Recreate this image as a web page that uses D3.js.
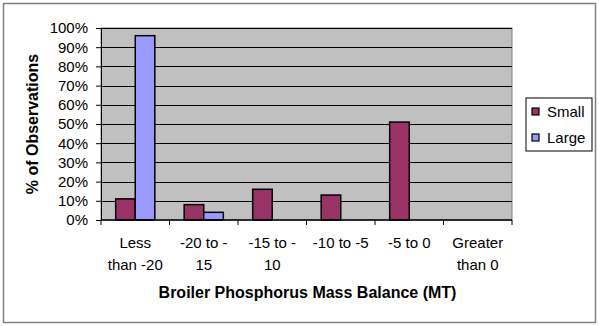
<!DOCTYPE html>
<html>
<head>
<meta charset="utf-8">
<script src="https://cdn.jsdelivr.net/npm/d3@7"></script>
<style>
  body { margin: 0; background: #fff; }
  text { font-family: Arial, "Liberation Sans", sans-serif; }
</style>
</head>
<body>
<div id="chart"></div>
<script>
// Chart data
const categories = [["Less", "than -20"], ["-20 to -", "15"], ["-15 to -", "10"], ["-10 to -5"], ["-5 to 0"], ["Greater", "than 0"]];
const seriesNames = ["Small", "Large"];
const smallValues = [11, 8, 16, 13, 51, 0];
const largeValues = [96, 4, 0, 0, 0, 0];
const yTicks = [0, 10, 20, 30, 40, 50, 60, 70, 80, 90, 100];
const colors = ["#993366", "#9999FF"];

const width = 599, height = 326;
const plot = { left: 101, right: 512, top: 28, bottom: 220 };

const svg = d3.select("#chart").append("svg")
    .attr("width", width)
    .attr("height", height);

// outer chart border
svg.append("rect")
    .attr("x", 3.5).attr("y", 3.5)
    .attr("width", 592).attr("height", 319)
    .attr("fill", "#fff")
    .attr("stroke", "#808080")
    .attr("stroke-width", 1.5);

const x = d3.scaleBand()
    .domain(d3.range(categories.length))
    .range([plot.left, plot.right])
    .paddingInner(0).paddingOuter(0);

const xSub = d3.scaleBand()
    .domain(seriesNames)
    .range([0, x.bandwidth()])
    .paddingInner(0)
    .paddingOuter(0.75); // Excel gap width 150%

const y = d3.scaleLinear().domain([0, 100]).range([plot.bottom, plot.top]);

// plot background
svg.append("rect")
    .attr("x", plot.left).attr("y", plot.top)
    .attr("width", plot.right - plot.left)
    .attr("height", plot.bottom - plot.top)
    .attr("fill", "#C0C0C0")
    .attr("stroke", "#808080");

// gridlines
svg.append("g").selectAll("line")
    .data(yTicks.filter(d => d > 0))
    .join("line")
    .attr("x1", plot.left).attr("x2", plot.right)
    .attr("y1", d => Math.round(y(d)) + 0.5).attr("y2", d => Math.round(y(d)) + 0.5)
    .attr("stroke", "#000").attr("stroke-width", 1);

// bars
const data = categories.map((c, i) => ({ i, values: [smallValues[i], largeValues[i]] }));
const groups = svg.append("g").selectAll("g")
    .data(data)
    .join("g")
    .attr("transform", d => `translate(${x(d.i)},0)`);

groups.selectAll("rect")
    .data(d => d.values.map((v, k) => ({ v, k })).filter(e => e.v > 0))
    .join("rect")
    .attr("x", e => xSub(seriesNames[e.k]))
    .attr("width", xSub.bandwidth())
    .attr("y", e => y(e.v))
    .attr("height", e => plot.bottom - y(e.v))
    .attr("fill", e => colors[e.k])
    .attr("stroke", "#000")
    .attr("stroke-width", 1.5);

// y axis
const yAxis = svg.append("g")
    .attr("transform", `translate(${plot.left},0)`)
    .call(d3.axisLeft(y).tickValues(yTicks).tickSize(5).tickPadding(8).tickFormat(d => d + "%"));
yAxis.select(".domain").attr("stroke", "#000");
yAxis.selectAll(".tick line").attr("stroke", "#000");
yAxis.selectAll("text").style("font-size", "15px").attr("fill", "#000");

// x axis
const xAxis = svg.append("g")
    .attr("transform", `translate(0,${plot.bottom})`);
xAxis.append("line")
    .attr("x1", plot.left).attr("x2", plot.right)
    .attr("stroke", "#000").attr("stroke-width", 1.5);
xAxis.selectAll(".xt")
    .data(d3.range(categories.length + 1))
    .join("line")
    .attr("x1", i => plot.left + i * x.bandwidth())
    .attr("x2", i => plot.left + i * x.bandwidth())
    .attr("y1", 0).attr("y2", 5)
    .attr("stroke", "#000");

const xLabels = svg.append("g").selectAll("text")
    .data(categories)
    .join("text")
    .attr("x", (d, i) => x(i) + x.bandwidth() / 2)
    .attr("y", 248)
    .attr("text-anchor", "middle")
    .style("font-size", "15px");
xLabels.selectAll("tspan")
    .data(d => d)
    .join("tspan")
    .attr("x", function () { return d3.select(this.parentNode).attr("x"); })
    .attr("dy", (d, i) => i === 0 ? 0 : 22)
    .text(d => d);

// axis titles
svg.append("text")
    .attr("x", (plot.left + plot.right) / 2 + 1)
    .attr("y", 298)
    .attr("text-anchor", "middle")
    .style("font-size", "16px")
    .style("font-weight", "bold")
    .text("Broiler Phosphorus Mass Balance (MT)");

svg.append("text")
    .attr("transform", `translate(38,${(plot.top + plot.bottom) / 2}) rotate(-90)`)
    .attr("text-anchor", "middle")
    .style("font-size", "16px")
    .style("font-weight", "bold")
    .text("% of Observations");

// legend
const legend = svg.append("g").attr("transform", "translate(526,98)");
legend.append("rect")
    .attr("width", 66).attr("height", 53)
    .attr("fill", "#fff").attr("stroke", "#000");
seriesNames.forEach((name, k) => {
    const row = legend.append("g").attr("transform", `translate(6,${14 + k * 26})`);
    row.append("rect")
        .attr("x", 0).attr("y", -4)
        .attr("width", 7).attr("height", 7)
        .attr("fill", colors[k]).attr("stroke", "#000").attr("stroke-width", 1.2);
    row.append("text")
        .attr("x", 15).attr("y", 5)
        .style("font-size", "15px")
        .text(name);
});
</script>
</body>
</html>
